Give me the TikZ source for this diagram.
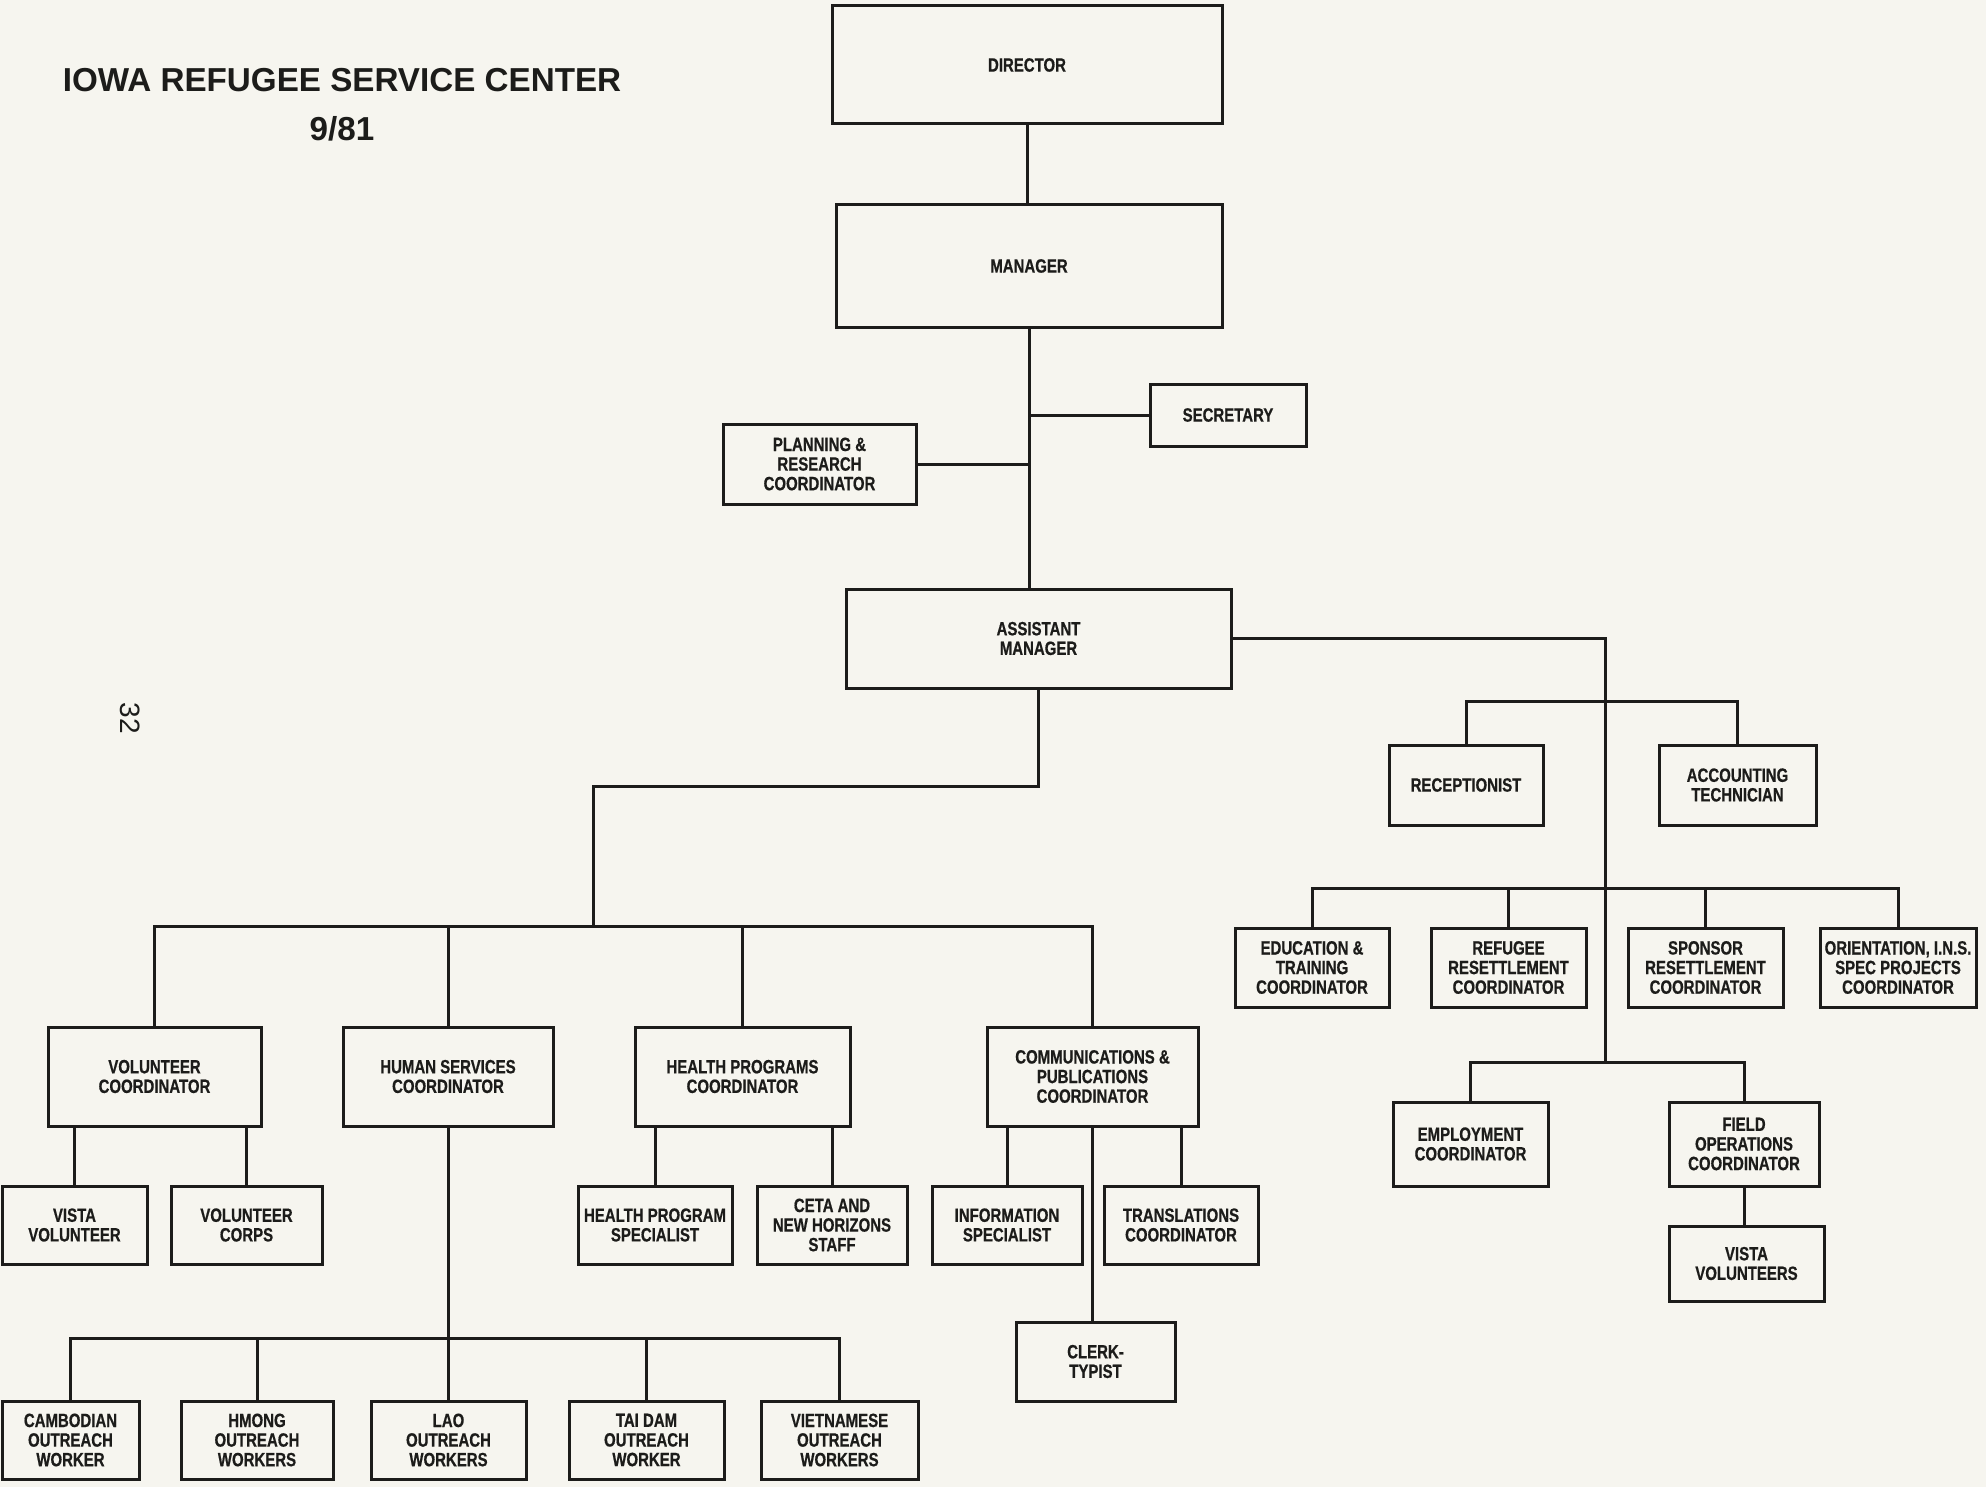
\documentclass[tikz,border=0pt]{standalone}
\usepackage{fontspec}
\newfontfamily\boxfont{Liberation Sans}[FakeStretch=0.78, FakeBold=0.6]
\newfontfamily\titlefont{Liberation Sans}
\definecolor{ink}{RGB}{28,28,26}
\definecolor{paper}{RGB}{246,245,239}
\tikzset{
  box/.style={draw=ink, line width=1.5pt, inner sep=1pt, align=center, text=ink,
    font=\boxfont\bfseries\fontsize{9.6}{9.8}\selectfont},
  conn/.style={draw=ink, line width=1.5pt}
}
\newcommand\bx[6]{\node[box, minimum width={(#4-#2)*0.5pt}, minimum height={(#5-#3)*0.5pt}] (#1) at ({(#2+#4)/2},{(#3+#5)/2}) {#6};}
\begin{document}
\begin{tikzpicture}[x=0.5pt, y=-0.5pt]
\fill[paper] (0,0) rectangle (1986,1487);
\useasboundingbox (0,0) rectangle (1986,1487);
% title
\node[text=ink, font=\titlefont\bfseries\fontsize{16.6}{18}\selectfont] (title) at (342,80) {IOWA REFUGEE SERVICE CENTER};
\node[text=ink, font=\titlefont\bfseries\fontsize{16.6}{18}\selectfont] (date) at (342,129) {9/81};
\node[text=ink, rotate=-90, font=\titlefont\fontsize{14}{15}\selectfont] (page) at (130,718) {32};
% top chain
\bx{dir}{832}{6}{1222}{124}{DIRECTOR}
\bx{mgr}{836}{205}{1222}{327}{MANAGER}
\bx{sec}{1150}{384}{1306}{446}{SECRETARY}
\bx{plan}{723}{424}{916}{504}{PLANNING \&\\RESEARCH\\COORDINATOR}
\bx{asst}{846}{589}{1231}{688}{ASSISTANT\\MANAGER}
% right branch
\bx{rec}{1389}{745}{1543}{825}{RECEPTIONIST}
\bx{acc}{1659}{745}{1816}{825}{ACCOUNTING\\TECHNICIAN}
\bx{edu}{1235}{928}{1389}{1007}{EDUCATION \&\\TRAINING\\COORDINATOR}
\bx{ref}{1431}{928}{1586}{1007}{REFUGEE\\RESETTLEMENT\\COORDINATOR}
\bx{spo}{1628}{928}{1783}{1007}{SPONSOR\\RESETTLEMENT\\COORDINATOR}
\bx{ori}{1820}{928}{1976}{1007}{ORIENTATION, I.N.S.\\SPEC PROJECTS\\COORDINATOR}
\bx{emp}{1393}{1102}{1548}{1186}{EMPLOYMENT\\COORDINATOR}
\bx{fld}{1669}{1102}{1819}{1186}{FIELD\\OPERATIONS\\COORDINATOR}
\bx{vvs}{1669}{1226}{1824}{1301}{VISTA\\VOLUNTEERS}
% left branch
\bx{vol}{48}{1027}{261}{1126}{VOLUNTEER\\COORDINATOR}
\bx{hum}{343}{1027}{553}{1126}{HUMAN SERVICES\\COORDINATOR}
\bx{hea}{635}{1027}{850}{1126}{HEALTH PROGRAMS\\COORDINATOR}
\bx{com}{987}{1027}{1198}{1126}{COMMUNICATIONS \&\\PUBLICATIONS\\COORDINATOR}
\bx{vv}{2}{1186}{147}{1264}{VISTA\\VOLUNTEER}
\bx{vc}{171}{1186}{322}{1264}{VOLUNTEER\\CORPS}
\bx{hps}{578}{1186}{732}{1264}{HEALTH PROGRAM\\SPECIALIST}
\bx{ceta}{757}{1186}{907}{1264}{CETA AND\\NEW HORIZONS\\STAFF}
\bx{inf}{932}{1186}{1082}{1264}{INFORMATION\\SPECIALIST}
\bx{tra}{1104}{1186}{1258}{1264}{TRANSLATIONS\\COORDINATOR}
\bx{clk}{1016}{1322}{1175}{1401}{CLERK-\\TYPIST}
\bx{cam}{2}{1401}{139}{1479}{CAMBODIAN\\OUTREACH\\WORKER}
\bx{hmo}{181}{1401}{333}{1479}{HMONG\\OUTREACH\\WORKERS}
\bx{lao}{371}{1401}{526}{1479}{LAO\\OUTREACH\\WORKERS}
\bx{tai}{569}{1401}{724}{1479}{TAI DAM\\OUTREACH\\WORKER}
\bx{vie}{761}{1401}{918}{1479}{VIETNAMESE\\OUTREACH\\WORKERS}
% connectors top
\draw[conn] (dir.south) -- (dir.south |- mgr.north);
\draw[conn] (mgr.south) -- (mgr.south |- asst.north);
\draw[conn] (sec.west) -- (sec.west -| mgr.south);
\draw[conn] (plan.east) -- (plan.east -| mgr.south);
% right
\coordinate (rv) at (1605,1064);
\draw[conn] (asst.east) -| (rv);
\draw[conn] (rec.north) -- ++(0,-42) -| (acc.north);
\draw[conn] (edu.north) -- ++(0,-38) -| (ori.north);
\draw[conn] (ref.north) -- ++(0,-38);
\draw[conn] (spo.north) -- ++(0,-38);
\draw[conn] (emp.north) -- ++(0,-38) -| (fld.north);
\draw[conn] (fld.south) -- (fld.south |- vvs.north);
% left
\coordinate (lbar) at (593,928);
\draw[conn] (asst.south) -- ++(0,97) -| (lbar);
\draw[conn] (vol.north) -- ++(0,-99) -| (com.north);
\draw[conn] (hum.north) -- ++(0,-99);
\draw[conn] (hea.north) -- ++(0,-99);
\draw[conn] (vv.north) -- (vv.north |- vol.south);
\draw[conn] (vc.north) -- (vc.north |- vol.south);
\draw[conn] (hps.north) -- (hps.north |- hea.south);
\draw[conn] (ceta.north) -- (ceta.north |- hea.south);
\draw[conn] (inf.north) -- (inf.north |- com.south);
\draw[conn] (tra.north) -- (tra.north |- com.south);
\draw[conn] (com.south) -- (com.south |- clk.north);
\draw[conn] (hum.south) -- (hum.south |- lao.north);
\draw[conn] (cam.north) -- ++(0,-61) -| (vie.north);
\draw[conn] (hmo.north) -- ++(0,-61);
\draw[conn] (tai.north) -- ++(0,-61);
\end{tikzpicture}
\end{document}
